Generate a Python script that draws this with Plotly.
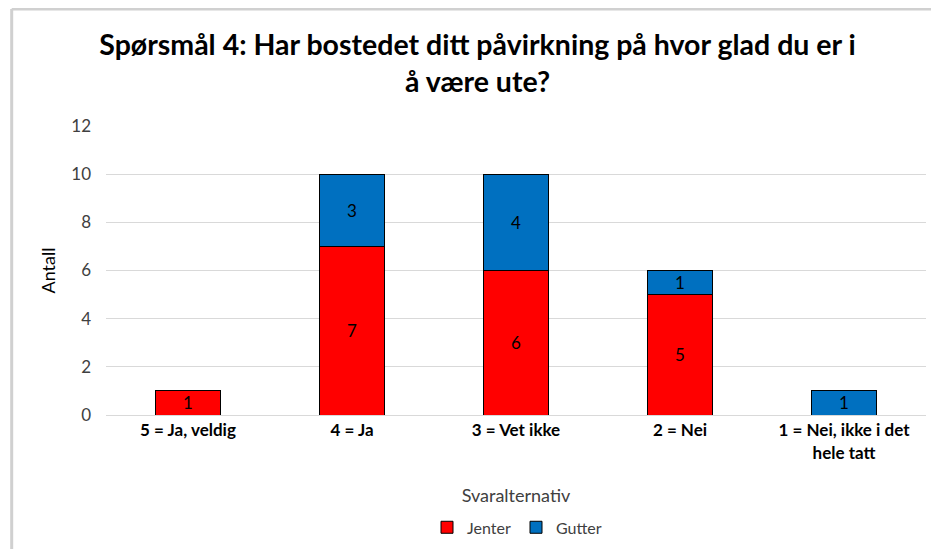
import plotly.graph_objects as go

categories = ["5 = Ja, veldig", "4 = Ja", "3 = Vet ikke", "2 = Nei",
              "1 = Nei, ikke i det<br>hele tatt"]
tick_labels = ["<b>5 = Ja, veldig</b>", "<b>4 = Ja</b>", "<b>3 = Vet ikke</b>",
               "<b>2 = Nei</b>", "<b>1 = Nei, ikke i det<br>hele tatt</b>"]
jenter = [1, 7, 6, 5, None]
gutter = [None, 3, 4, 1, 1]

font = "Lato, sans-serif"

fig = go.Figure()
fig.add_trace(go.Bar(x=categories, y=jenter, name="Jenter",
                     marker=dict(color="#FF0000", line=dict(color="#000000", width=1)),
                     text=jenter, textposition="inside", insidetextanchor="middle", textangle=0,
                     constraintext="none",
                     textfont=dict(color="#000000", size=17, family=font)))
fig.add_trace(go.Bar(x=categories, y=gutter, name="Gutter",
                     marker=dict(color="#0070C0", line=dict(color="#000000", width=1)),
                     text=gutter, textposition="inside", insidetextanchor="middle", textangle=0,
                     constraintext="none",
                     textfont=dict(color="#000000", size=17, family=font)))

fig.update_layout(
    barmode="stack",
    bargap=0.6,
    width=939, height=549,
    paper_bgcolor="white", plot_bgcolor="white",
    font=dict(family=font, color="#404040", size=16),
    title=dict(text="<b>Spørsmål 4: Har bostedet ditt påvirkning på hvor glad du er i<br>å være ute?</b>",
               x=0.5, xanchor="center", y=0.915, yanchor="top",
               font=dict(size=28.5, color="#000000", family=font)),
    margin=dict(l=98, r=21, t=118, b=133),
    legend=dict(orientation="h", x=0.5, xanchor="center", y=-0.33, yanchor="top",
                font=dict(size=16, color="#404040"), traceorder="normal",
                entrywidth=44, entrywidthmode="pixels"),
    shapes=[
        dict(type="line", xref="paper", yref="paper", x0=-0.115, x1=1.03, y0=1.405, y1=1.405,
             line=dict(color="#D0D0D0", width=3), layer="above"),
        dict(type="line", xref="paper", yref="paper", x0=-0.115, x1=-0.115, y0=-0.5, y1=1.405,
             line=dict(color="#D0D0D0", width=3), layer="above"),
    ],
)
fig.update_xaxes(tickvals=categories, ticktext=tick_labels, ticks="", automargin=False,
                 showline=True, linecolor="#D9D9D9", linewidth=1,
                 tickfont=dict(size=17, color="#000000"),
                 title=dict(text="Svaralternativ", font=dict(size=18, color="#404040"), standoff=27))
fig.update_yaxes(range=[0, 12], dtick=2, showgrid=True, gridcolor="#D9D9D9", zeroline=False,
                 automargin=False,
                 tickfont=dict(size=17, color="#404040"), ticklabelstandoff=14,
                 title=dict(text="Antall", font=dict(size=18, color="#000000"), standoff=10))

fig.write_html("out.html")
